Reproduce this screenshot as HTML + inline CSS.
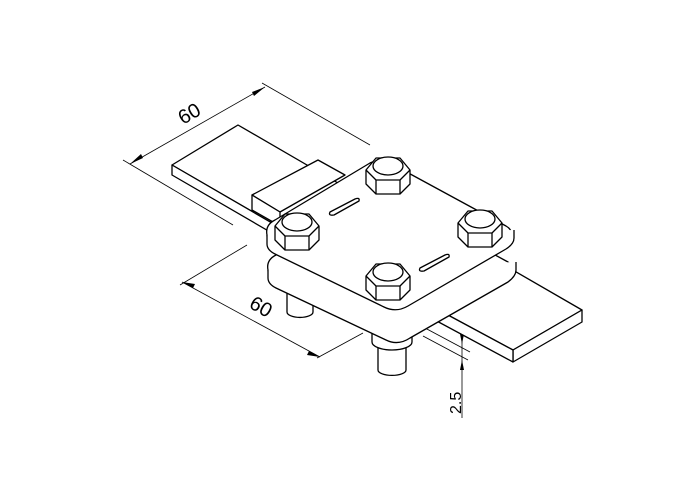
<!DOCTYPE html>
<html><head><style>body{margin:0;background:#fff}svg{display:block}</style></head><body>
<svg width="700" height="500" viewBox="0 0 700 500" xmlns="http://www.w3.org/2000/svg" fill="none" stroke="#000" stroke-width="1.3" stroke-linejoin="round" font-family="Liberation Sans, sans-serif">
<rect width="700" height="500" fill="#fff" stroke="none"/>
<g stroke-width="0.8">
<line x1="123" y1="160" x2="233" y2="225"/>
<line x1="262" y1="83" x2="370" y2="145"/>
<line x1="130" y1="164" x2="265" y2="87"/>
<line x1="247" y1="245" x2="180" y2="285"/>
<line x1="317" y1="358" x2="363" y2="333"/>
<line x1="182" y1="282" x2="320" y2="357"/>
<line x1="462" y1="323" x2="462" y2="418"/>
<line x1="425" y1="328" x2="470" y2="352"/>
<line x1="423" y1="336" x2="468" y2="360"/>
</g>
<g fill="#000" stroke="none">
<polygon points="130,164 141,154 143,158"/>
<polygon points="265,87 252,92 254,96"/>
<polygon points="182,282 195,284 193,288"/>
<polygon points="320,357 307,355 309,351"/>
<polygon points="462,344 460,334 464,334"/>
<polygon points="462,360 460,370 464,370"/>
</g>
<text x="0" y="0" font-size="20" fill="#000" stroke="none" transform="translate(183,125) rotate(-30)">60</text>
<text x="0" y="0" font-size="20" fill="#000" stroke="none" transform="translate(248,307) rotate(30)">60</text>
<text x="0" y="0" font-size="16" fill="#000" stroke="none" transform="translate(461,414) rotate(-90)">2.5</text>
<g fill="#fff">
<polygon points="172,165 238,125 350,190 284,230"/>
<polygon points="172,165 172,175 284,240 284,230"/>
<polygon points="252,195 318,160 345,175 280,212"/>
<polygon points="252,195 252,210 280,226 280,212"/>
<polygon points="420,300 492,258 582,310 513,350"/>
<polygon points="513,350 582,310 582,322 513,362"/>
<polygon points="420,300 513,350 513,362 420,312"/>
<path d="M287,290 v22 a12,5 0 0 0 26,0 v-22 z"/>
<path d="M378,340 v30 a13,5 0 0 0 28,0 v-30 z"/>
<path d="M372,330 v12 a20,8 0 0 0 40,0 v-12 z"/>
<path d="M370,318 v10 a22,8 0 0 0 44,0 v-10 z"/>
<g transform="translate(0,10)">
<path d="M268,260 Q266,250 276,245 L374,190 Q384,185 394,190 L508,252 Q516,258 508,264 L410,320 Q398,328 386,322 L276,270 Q268,266 268,260 Z"/>
<path d="M268,260 v8 Q268,274 276,278 L386,330 Q398,336 410,328 L508,272 Q516,266 516,260 v-8"/>
</g>
<path d="M267,235 Q265,225 275,220 L370,163 Q380,158 390,163 L506,226 Q516,232 506,240 L408,297 Q396,304 384,298 L275,246 Q267,242 267,235 Z"/>
<path d="M267,235 v9 Q267,250 275,254 L384,307 Q396,313 408,306 L506,249 Q514,244 514,238 v-8"/>
<path d="M330,212 L355,199 Q360,197 359,201 L334,215 Q328,216 330,212 Z"/>
<path d="M420,268 L445,255 Q450,253 449,257 L424,271 Q418,272 420,268 Z"/>
</g>
<g fill="#fff">
<g transform="translate(388,172)"><polygon points="-22,-2 -12,-14 12,-14 22,-2 22,12 12,22 -12,22 -22,12"/><line x1="-12" y1="22" x2="-12" y2="8"/><line x1="12" y1="22" x2="12" y2="8"/><path d="M-22,-2 L-12,8 L12,8 L22,-2"/><ellipse cx="0" cy="-6" rx="15" ry="9"/></g>
<g transform="translate(297,228)"><polygon points="-22,-2 -12,-14 12,-14 22,-2 22,12 12,22 -12,22 -22,12"/><line x1="-12" y1="22" x2="-12" y2="8"/><line x1="12" y1="22" x2="12" y2="8"/><path d="M-22,-2 L-12,8 L12,8 L22,-2"/><ellipse cx="0" cy="-6" rx="15" ry="9"/></g>
<g transform="translate(480,225)"><polygon points="-22,-2 -12,-14 12,-14 22,-2 22,12 12,22 -12,22 -22,12"/><line x1="-12" y1="22" x2="-12" y2="8"/><line x1="12" y1="22" x2="12" y2="8"/><path d="M-22,-2 L-12,8 L12,8 L22,-2"/><ellipse cx="0" cy="-6" rx="15" ry="9"/></g>
<g transform="translate(388,278)"><polygon points="-22,-2 -12,-14 12,-14 22,-2 22,12 12,22 -12,22 -22,12"/><line x1="-12" y1="22" x2="-12" y2="8"/><line x1="12" y1="22" x2="12" y2="8"/><path d="M-22,-2 L-12,8 L12,8 L22,-2"/><ellipse cx="0" cy="-6" rx="15" ry="9"/></g>
</g>
</svg>
</body></html>
